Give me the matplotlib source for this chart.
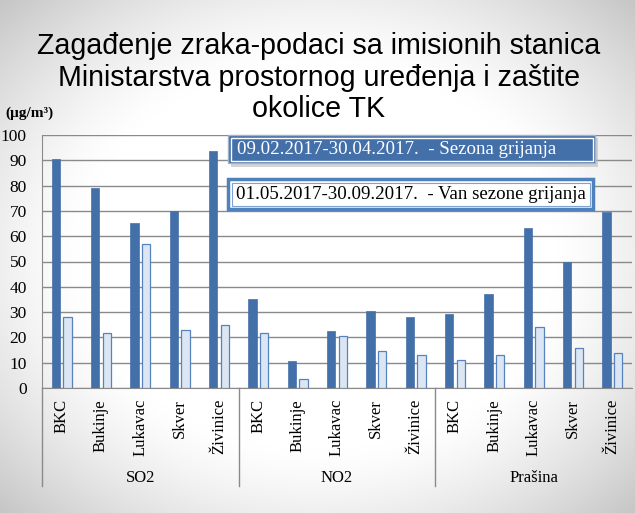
import matplotlib
matplotlib.use("Agg")
import matplotlib.pyplot as plt
import matplotlib.patches as mpatches
import matplotlib.transforms as mtransforms
import numpy as np

# data
stations = ["BKC", "Bukinje", "Lukavac", "Skver", "Živinice"]
groups = ["SO2", "NO2", "Prašina"]
season = [90.7, 79.1, 65.2, 70.0, 93.8,
          35.3, 10.8, 22.5, 30.5, 27.9,
          29.1, 37.3, 63.2, 49.9, 69.6]
off_season = [28.2, 21.6, 57.1, 23.1, 25.0,
              21.9, 3.5, 20.4, 14.7, 13.1,
              11.2, 12.9, 24.3, 15.7, 14.0]
season_label = "09.02.2017-30.04.2017.  - Sezona grijanja"
off_label = "01.05.2017-30.09.2017.  - Van sezone grijanja"
title_lines = ["Zagađenje zraka-podaci sa imisionih stanica",
               "Ministarstva prostornog uređenja i zaštite",
               "okolice TK"]

W, H = 635, 513
DARK = "#4470aa"
LIGHT = "#dce6f3"
LIGHT_EDGE = "#5683bf"
GRID = "#8a8a8a"
serif = "Liberation Serif"

fig = plt.figure(figsize=(W / 100, H / 100), dpi=100)

# slide-like grey vignette behind everything
bg = fig.add_axes([0, 0, 1, 1], zorder=-10)
yy, xx = np.mgrid[0:H, 0:W]
d = np.sqrt(((xx - W / 2) / (W / 2)) ** 2 + ((yy - H / 2) / (H / 2)) ** 2)
shade = 1 - 0.22 * np.clip((d - 0.75) / 0.65, 0, 1) ** 1.3
bg.imshow(np.dstack([shade] * 3), extent=[0, W, H, 0], aspect="auto")
bg.axis("off")

ax = fig.add_axes([42 / W, 1 - 388 / H, (632 - 42) / W, (388 - 135) / H])
ax.patch.set_alpha(0)

x = np.arange(len(season))
bw = 0.21
ax.bar(x - 0.148, season, bw, color=DARK, edgecolor=DARK, linewidth=0.5, zorder=3)
ax.bar(x + 0.148, off_season, bw, color=LIGHT, edgecolor=LIGHT_EDGE, linewidth=0.9, zorder=3)

ax.set_xlim(-0.5, len(season) - 0.5)
ax.set_ylim(0, 100)
ax.set_yticks(range(0, 101, 10))
ax.yaxis.grid(True, color=GRID, linewidth=1)
ax.set_axisbelow(True)
for s in ["top", "right"]:
    ax.spines[s].set_visible(False)
for s in ["left", "bottom"]:
    ax.spines[s].set_color(GRID)

ax.set_xticks(x)
ax.set_xticklabels(stations * len(groups), rotation=90, family=serif, fontsize=12)
ax.tick_params(axis="x", length=0, pad=8)
ax.tick_params(axis="y", length=0, pad=11, labelsize=12.5)
for lab in ax.get_yticklabels():
    lab.set_family(serif)

# group separators and group names below the tick labels
tr = mtransforms.blended_transform_factory(ax.transData, ax.transAxes)
n = len(stations)
for k in range(len(groups)):
    xs = k * n - 0.5
    ax.plot([xs, xs], [0, -0.387], transform=tr, color=GRID, lw=1, clip_on=False)
for k, g in enumerate(groups):
    ax.text(k * n + (n - 1) / 2, -0.356, g, transform=tr, ha="center", va="center",
            family=serif, fontsize=12)

# title (one text per line) and unit
for i, line in enumerate(title_lines):
    fig.text(0.502, 1 - (46 + 31.5 * i) / H, line, ha="center", va="center",
             fontsize=20.6, family="Liberation Sans")
fig.text(5 / W, 1 - 113 / H, "(µg/m³)", ha="left", va="center", family=serif,
         fontsize=11, fontweight="bold")

# legend boxes drawn in pixel coordinates
ov = fig.add_axes([0, 0, 1, 1], zorder=5)
ov.set_xlim(0, W)
ov.set_ylim(H, 0)
ov.axis("off")
ov.add_patch(mpatches.Rectangle((231, 138), 367, 29, color="#b8b8b8", alpha=0.6, lw=0))
ov.add_patch(mpatches.Rectangle((228, 135), 367, 28, facecolor=DARK, edgecolor="#9fb3cc", lw=1))
ov.add_patch(mpatches.Rectangle((230.5, 137.5), 362, 23, facecolor="none", edgecolor="white", lw=1))
ov.text(237, 149.5, season_label, ha="left", va="center", color="white",
        family=serif, fontsize=13.6)

ov.add_patch(mpatches.Rectangle((228, 179), 365, 30, facecolor="white", edgecolor="#4f81bd", lw=2.5))
ov.add_patch(mpatches.Rectangle((231.5, 182.5), 358, 23, facecolor="none", edgecolor="#7fa3d0", lw=0.8))
ov.text(236, 194.5, off_label, ha="left", va="center", color="black",
        family=serif, fontsize=13.6)

fig.savefig("out.png", dpi=100)
